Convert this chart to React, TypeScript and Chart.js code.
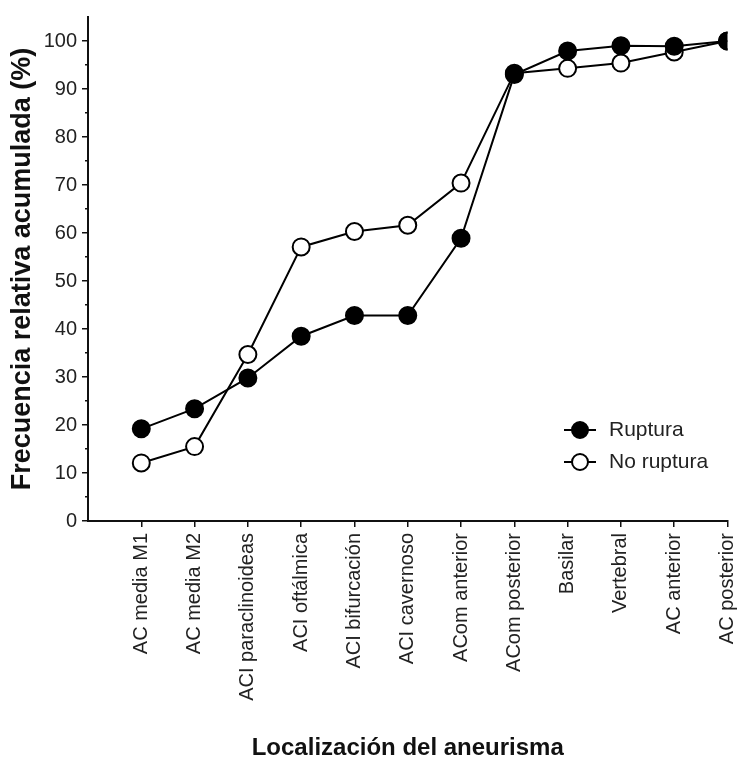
import React, { useEffect, useRef } from 'react';
import { Chart, registerables } from 'chart.js';

Chart.register(...registerables);

const categories = [
  'AC media M1',
  'AC media M2',
  'ACI paraclinoideas',
  'ACI oftálmica',
  'ACI bifurcación',
  'ACI cavernoso',
  'ACom anterior',
  'ACom posterior',
  'Basilar',
  'Vertebral',
  'AC anterior',
  'AC posterior',
];

const ruptura = [19.2, 23.4, 29.8, 38.5, 42.8, 42.8, 58.9, 93.0, 97.9, 99.0, 98.9, 100];
const noRuptura = [12.1, 15.5, 34.7, 57.1, 60.3, 61.6, 70.4, 93.3, 94.3, 95.4, 97.7, 100];

const yTickValues = [0, 10, 20, 30, 40, 50, 60, 70, 80, 90, 100];
const yMinorTickValues = [5, 15, 25, 35, 45, 55, 65, 75, 85, 95];

const seriesNames = ['Ruptura', 'No ruptura'];

const FONT = '"Liberation Sans", Arial, Helvetica, sans-serif';

const insideLegend = {
  id: 'insideLegend',
  afterDatasetsDraw(chart: any) {
    const ctx = chart.ctx;
    const rows = [
      { i: 0, x: 580, y: 430 },
      { i: 1, x: 580, y: 462 },
    ];
    ctx.save();
    rows.forEach(({ i, x, y }) => {
      const ds = chart.data.datasets[i];
      ctx.strokeStyle = '#000';
      ctx.lineWidth = 2;
      ctx.beginPath();
      ctx.moveTo(x - 16, y);
      ctx.lineTo(x + 16, y);
      ctx.stroke();
      ctx.beginPath();
      ctx.arc(x, y, 8, 0, Math.PI * 2);
      ctx.fillStyle = ds.pointBackgroundColor;
      ctx.fill();
      ctx.stroke();
      ctx.fillStyle = '#222';
      ctx.font = `21px ${FONT}`;
      ctx.textBaseline = 'middle';
      ctx.textAlign = 'left';
      ctx.fillText(ds.label, x + 29, y);
    });
    ctx.restore();
  },
};

export default function App() {
  const ref = useRef<HTMLCanvasElement | null>(null);

  useEffect(() => {
    if (!ref.current) return;
    const chart = new Chart(ref.current, {
      type: 'line',
      data: {
        datasets: [
          {
            label: seriesNames[0],
            data: ruptura.map((v, i) => ({ x: i, y: v })),
            borderColor: '#000',
            borderWidth: 2,
            pointRadius: 8.5,
            pointBorderWidth: 2,
            pointBackgroundColor: '#000',
            pointBorderColor: '#000',
            tension: 0,
          },
          {
            label: seriesNames[1],
            data: noRuptura.map((v, i) => ({ x: i, y: v })),
            borderColor: '#000',
            borderWidth: 2,
            pointRadius: 8.5,
            pointBorderWidth: 2,
            pointBackgroundColor: '#fff',
            pointBorderColor: '#000',
            tension: 0,
          },
        ],
      },
      options: {
        animation: false,
        responsive: false,
        maintainAspectRatio: false,
        devicePixelRatio: 1,
        layout: { padding: { top: 7, right: 9, bottom: 0, left: 0 } },
        plugins: {
          legend: { display: false },
          tooltip: { enabled: false },
        },
        scales: {
          x: {
            type: 'linear',
            min: -1,
            max: 11,
            afterBuildTicks: (s: any) => {
              s.ticks = categories.map((_, i) => ({ value: i }));
            },
            afterFit: (s: any) => {
              s.height = 245;
              s.paddingLeft = 0;
              s.paddingRight = 0;
            },
            ticks: {
              autoSkip: false,
              minRotation: 90,
              maxRotation: 90,
              padding: 6,
              color: '#222',
              font: { family: FONT, size: 20 },
              callback: (v: any) => categories[v] ?? '',
            },
            grid: { drawOnChartArea: false, tickLength: 6, color: '#111', lineWidth: 1.5 },
            border: { display: true, color: '#111', width: 2 },
            title: {
              display: true,
              text: 'Localización del aneurisma',
              color: '#111',
              font: { family: FONT, size: 24, weight: 'bold' },
              padding: { top: 0, bottom: 3 },
            },
          },
          y: {
            type: 'linear',
            position: 'left',
            weight: 1,
            min: 0,
            max: 105,
            afterBuildTicks: (s: any) => {
              s.ticks = yTickValues.map((v) => ({ value: v }));
            },
            afterFit: (s: any) => {
              s.width = 88;
            },
            ticks: {
              padding: 5,
              color: '#222',
              font: { family: FONT, size: 20 },
            },
            grid: { drawOnChartArea: false, tickLength: 6, color: '#111', lineWidth: 1.5 },
            border: { display: true, color: '#111', width: 2 },
            title: {
              display: true,
              text: 'Frecuencia relativa acumulada (%)',
              color: '#111',
              font: { family: FONT, size: 27, weight: 'bold' },
              padding: { top: 6, bottom: 0 },
            },
          },
          yMinor: {
            type: 'linear',
            position: 'left',
            weight: 0,
            min: 0,
            max: 105,
            afterBuildTicks: (s: any) => {
              s.ticks = yMinorTickValues.map((v) => ({ value: v }));
            },
            afterFit: (s: any) => {
              s.width = 0;
            },
            ticks: { display: false },
            grid: { drawOnChartArea: false, tickLength: 3, color: '#111', lineWidth: 1.5 },
            border: { display: false },
          },
        },
      },
      plugins: [insideLegend],
    } as any);
    return () => chart.destroy();
  }, []);

  return (
    <div style={{ position: 'absolute', left: 0, top: 0, width: 738, height: 766, background: '#fff' }}>
      <canvas ref={ref} width={738} height={766} style={{ display: 'block' }} />
    </div>
  );
}
